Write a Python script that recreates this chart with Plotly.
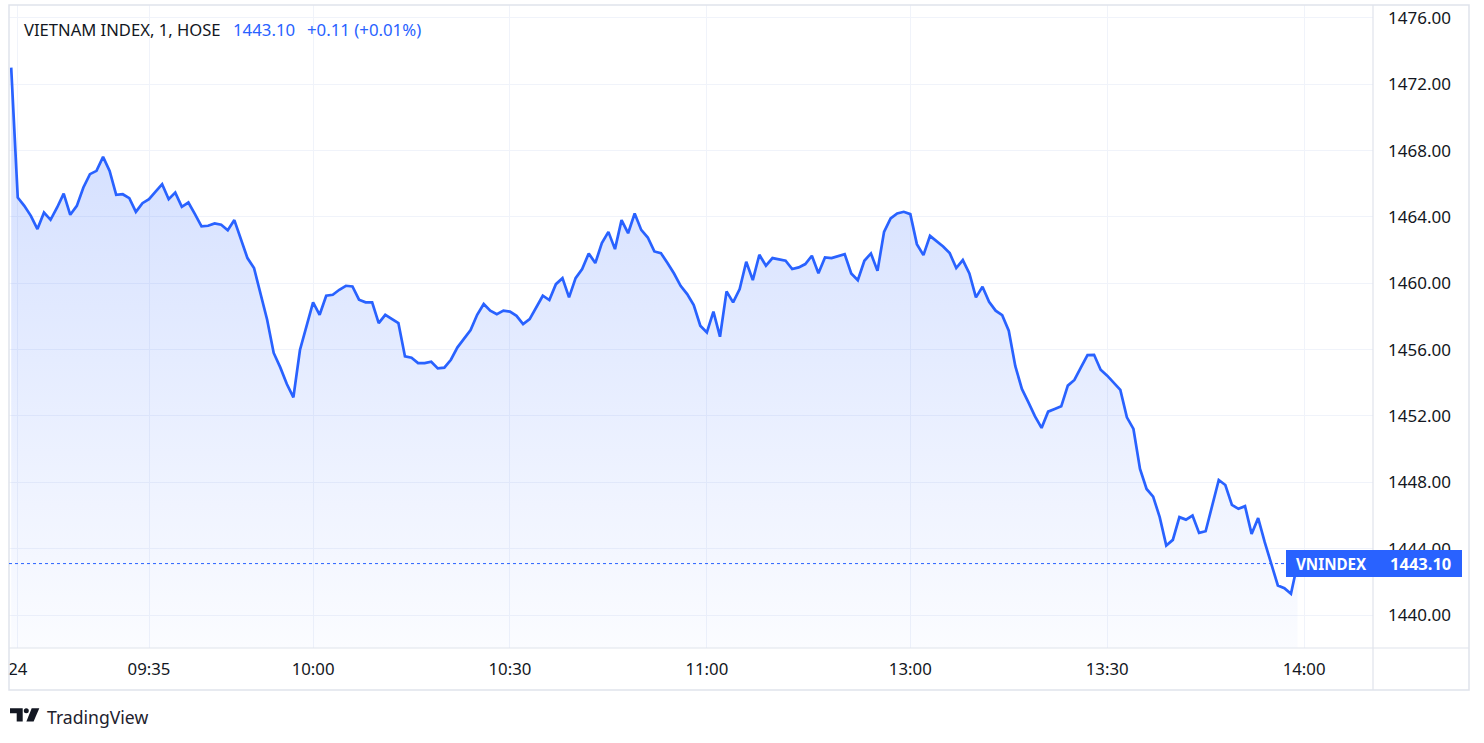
import plotly.graph_objects as go

# ---------------- data ----------------
def minute_range(start, end):
    h, m = map(int, start.split(":"))
    eh, em = map(int, end.split(":"))
    out = []
    while (h, m) <= (eh, em):
        out.append(f"{h:02d}:{m:02d}")
        m += 1
        if m == 60:
            h, m = h + 1, 0
    return out

# 1-minute bars: last bar of previous session, morning session, afternoon session
times = ["14:45 (prev)"] + minute_range("09:15", "11:30") + minute_range("13:00", "13:59")

vnindex = [
    1473.00,
    1465.17, 1464.67, 1464.07, 1463.27, 1464.27, 1463.83, 1464.57, 1465.41, 1464.13, 1464.67,
    1465.78, 1466.58, 1466.78, 1467.62, 1466.78, 1465.33, 1465.37, 1465.13, 1464.31, 1464.83,
    1465.07, 1465.53, 1465.98, 1465.07, 1465.47, 1464.61, 1464.87, 1464.17, 1463.43, 1463.47,
    1463.61, 1463.53, 1463.20, 1463.81, 1462.66, 1461.52, 1460.92, 1459.31, 1457.80, 1455.80,
    1454.93, 1453.93, 1453.12, 1455.98, 1457.44, 1458.85, 1458.10,
    1459.25, 1459.31, 1459.61, 1459.85, 1459.81, 1459.01, 1458.85, 1458.85, 1457.60, 1458.10,
    1457.84, 1457.60, 1455.59, 1455.51, 1455.19, 1455.19, 1455.27, 1454.87, 1454.91, 1455.39,
    1456.14, 1456.64, 1457.18, 1458.10, 1458.75, 1458.35, 1458.14, 1458.35, 1458.29, 1458.04,
    1457.54, 1457.84, 1458.55, 1459.25, 1458.99, 1459.95, 1460.31, 1459.15, 1460.31, 1460.86,
    1461.80, 1461.22, 1462.42, 1463.10, 1462.06, 1463.81, 1463.02, 1464.21, 1463.22, 1462.76,
    1461.92, 1461.82, 1461.22, 1460.59, 1459.85, 1459.35, 1458.69, 1457.44,
    1457.04, 1458.29, 1456.78, 1459.51, 1458.85, 1459.65, 1461.30, 1460.19, 1461.72, 1461.06,
    1461.52, 1461.46, 1461.36, 1460.86, 1460.96, 1461.16, 1461.66, 1460.61, 1461.56, 1461.52,
    1461.66, 1461.76, 1460.59, 1460.19, 1461.36, 1461.80, 1460.75, 1463.10, 1463.91, 1464.21,
    1464.31, 1464.17, 1462.36, 1461.70, 1462.86, 1462.56, 1462.22, 1461.82, 1460.92, 1461.40,
    1460.59, 1459.15, 1459.79, 1458.89, 1458.35, 1458.08, 1457.14,
    1455.00, 1453.63, 1452.82, 1451.98, 1451.28, 1452.26, 1452.42, 1452.58, 1453.83, 1454.17,
    1454.93, 1455.67, 1455.69, 1454.79, 1454.43, 1453.99, 1453.57, 1451.92, 1451.22, 1448.81,
    1447.60, 1447.14, 1445.90, 1444.19, 1444.53, 1445.90, 1445.75, 1446.00, 1444.95, 1445.05,
    1446.60, 1448.14, 1447.84, 1446.64, 1446.40, 1446.56, 1444.89, 1445.84, 1444.39, 1443.08,
    1441.78, 1441.62, 1441.28, 1443.10,
]

time_tick_vals = ["09:15", "09:35", "10:00", "10:30", "11:00", "13:00", "13:30", "14:00"]
time_tick_text = ["24", "09:35", "10:00", "10:30", "11:00", "13:00", "13:30", "14:00"]

symbol = "VNINDEX"
title_text = "VIETNAM INDEX, 1, HOSE"
last_price = "1443.10"
last_change = "+0.11 (+0.01%)"

# ---------------- style ----------------
BLUE = "#2962FF"
TEXT = "#131722"
GRID = "#f0f3fa"
BORDER = "#e0e3eb"
FONT = "Noto Sans"

W, H = 1484, 743
PL, PR, PT, PB = 9, 1373, 5, 648  # plot area in pixels


def px(X):
    return (X - PL) / (PR - PL)


def py(Y):
    return (PB - Y) / (PB - PT)


fig = go.Figure()
fig.add_trace(go.Scatter(
    x=times,
    y=vnindex,
    mode="lines",
    line=dict(color=BLUE, width=2.7),
    fill="tozeroy",
    fillgradient=dict(
        type="vertical",
        colorscale=[[0, "rgba(41,98,255,0.02)"], [1, "rgba(41,98,255,0.23)"]],
        start=1438.0,
        stop=1474.0,
    ),
    hoverinfo="x+y",
    showlegend=False,
))

last_val = vnindex[-1]
half = 13.5 / ((PB - PT) / (1476.78 - 1438.01))

shapes = [
    # outer frame
    dict(type="rect", xref="paper", yref="paper", x0=0, x1=px(1469), y0=py(690), y1=py(5),
         line=dict(color=BORDER, width=1.5), layer="above"),
    # price-scale separator
    dict(type="line", xref="paper", yref="paper", x0=1, x1=1, y0=py(690), y1=1,
         line=dict(color=BORDER, width=1.2), layer="above"),
    # time-scale separator
    dict(type="line", xref="paper", yref="paper", x0=0, x1=px(1469), y0=0, y1=0,
         line=dict(color=BORDER, width=1.2), layer="above"),
    # last price dotted line
    dict(type="line", xref="paper", yref="y", x0=0, x1=1, y0=last_val, y1=last_val,
         line=dict(color=BLUE, width=1, dash="dot"), layer="above"),
    # last price label box
    dict(type="rect", xref="paper", yref="y", x0=px(1286), x1=px(1462),
         y0=last_val - half, y1=last_val + half,
         fillcolor=BLUE, line=dict(width=0), layer="above"),
    # TradingView logo
    dict(type="path", xref="paper", yref="paper",
         path=(f"M {px(10)},{py(708.3)} L {px(22.7)},{py(708.3)} L {px(22.7)},{py(721.5)} "
               f"L {px(16.7)},{py(721.5)} L {px(16.7)},{py(713.3)} L {px(10)},{py(713.3)} Z"),
         fillcolor=TEXT, line=dict(width=0), layer="above"),
    dict(type="circle", xref="paper", yref="paper",
         x0=px(23.8), x1=px(28.8), y0=py(713.3), y1=py(708.3),
         fillcolor=TEXT, line=dict(width=0), layer="above"),
    dict(type="path", xref="paper", yref="paper",
         path=(f"M {px(31.7)},{py(708.3)} L {px(39.3)},{py(708.3)} L {px(33.6)},{py(721.5)} "
               f"L {px(26.4)},{py(721.5)} Z"),
         fillcolor=TEXT, line=dict(width=0), layer="above"),
]

annotations = [
    dict(text=title_text, xref="paper", yref="paper", x=px(21.5), y=py(29.5),
         xanchor="left", yanchor="middle", showarrow=False,
         font=dict(family=FONT, size=16.6, color=TEXT)),
    dict(text=last_price, xref="paper", yref="paper", x=px(231), y=py(29.5),
         xanchor="left", yanchor="middle", showarrow=False,
         font=dict(family=FONT, size=16.8, color=BLUE)),
    dict(text=last_change, xref="paper", yref="paper", x=px(304.5), y=py(29.5),
         xanchor="left", yanchor="middle", showarrow=False,
         font=dict(family=FONT, size=16.8, color=BLUE)),
    dict(text=f"<b>{symbol}</b>", xref="paper", yref="y", x=px(1294), y=last_val,
         xanchor="left", yanchor="middle", showarrow=False,
         font=dict(family=FONT, size=15.2, color="white")),
    dict(text=f"<b>{last_price}</b>", xref="paper", yref="y", x=px(1388), y=last_val,
         xanchor="left", yanchor="middle", showarrow=False,
         font=dict(family=FONT, size=16.5, color="white")),
    dict(text="TradingView", xref="paper", yref="paper", x=px(45), y=py(716.5),
         xanchor="left", yanchor="middle", showarrow=False,
         font=dict(family=FONT, size=17.6, color="#1e222d")),
]

fig.update_layout(
    width=W, height=H,
    margin=dict(l=PL, r=W - PR, t=PT, b=H - PB, pad=0),
    paper_bgcolor="white",
    plot_bgcolor="white",
    font=dict(family=FONT, size=16, color=TEXT),
    shapes=shapes,
    annotations=annotations,
    hovermode="x",
    xaxis=dict(
        type="category",
        categoryorder="array",
        categoryarray=times + ["14:00"],
        tickmode="array",
        tickvals=time_tick_vals,
        ticktext=time_tick_text,
        range=[-0.333, 207.5],
        showgrid=True, gridcolor=GRID, gridwidth=1,
        zeroline=False, showline=False, ticks="",
        ticklabelstandoff=9,
        tickfont=dict(family=FONT, size=16.8, color=TEXT),
        fixedrange=True,
    ),
    yaxis=dict(
        side="right",
        range=[1438.01, 1476.78],
        tickmode="linear", tick0=1440, dtick=4, tickformat=".2f",
        showgrid=True, gridcolor=GRID, gridwidth=1,
        zeroline=False, showline=False, ticks="",
        ticklabelstandoff=14,
        tickfont=dict(family=FONT, size=17, color=TEXT),
        fixedrange=True,
    ),
)

fig.write_html("out.html", config={"displayModeBar": False},
               post_script="document.body.style.margin='0';document.body.style.overflow='hidden';")
